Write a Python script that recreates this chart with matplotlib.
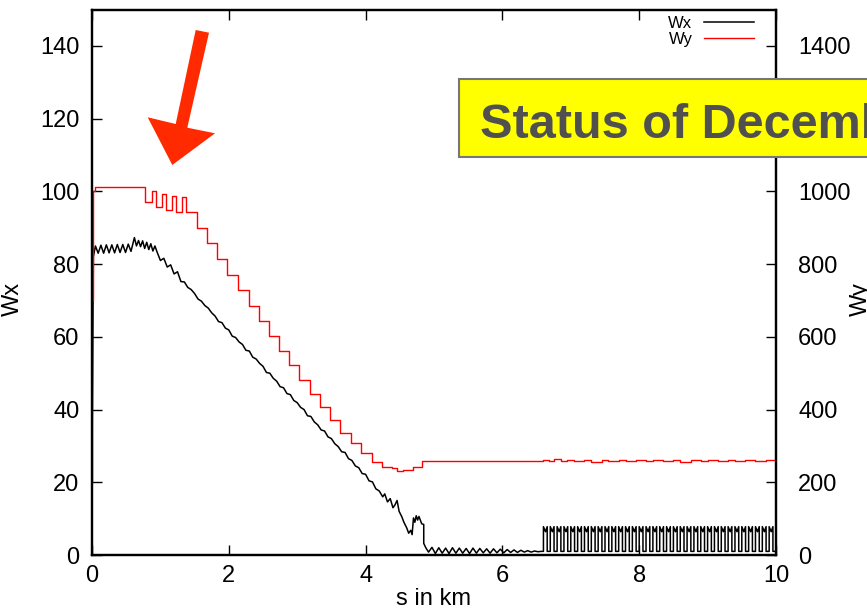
import matplotlib.pyplot as plt
from matplotlib.patches import Polygon, Rectangle

plt.rcParams['font.family'] = ['Liberation Sans', 'DejaVu Sans']

W, H = 867, 611

# Wx (left axis), black curve, s in km
wx_s = [0.00, 0.02, 0.05, 0.09, 0.13, 0.17, 0.21, 0.25, 0.29, 0.33, 0.37, 0.41,
        0.45, 0.49, 0.53, 0.57, 0.62, 0.65, 0.68, 0.71, 0.74, 0.77, 0.80, 0.83,
        0.86, 0.89, 0.92,
        0.95, 1.00, 1.05, 1.10, 1.15, 1.20, 1.25, 1.30, 1.35, 1.40, 1.45, 1.50,
        1.55, 1.60, 1.65, 1.70, 1.75, 1.80, 1.85, 1.90, 1.95, 2.00, 2.05, 2.10,
        2.15, 2.20, 2.25, 2.30, 2.35, 2.40, 2.45, 2.50, 2.55, 2.60, 2.65, 2.70,
        2.75, 2.80, 2.85, 2.90, 2.95, 3.00, 3.05, 3.10, 3.15, 3.20, 3.25, 3.30,
        3.35, 3.40, 3.45, 3.50, 3.55, 3.60, 3.65, 3.70, 3.75, 3.80, 3.85, 3.90,
        3.95, 4.00, 4.05, 4.10, 4.15, 4.20,
        4.25, 4.28, 4.32, 4.36, 4.40, 4.43, 4.46, 4.49, 4.53, 4.56, 4.60, 4.63,
        4.66, 4.68, 4.70, 4.72, 4.74, 4.76, 4.78, 4.82, 4.85, 4.85, 4.88, 4.92,
        4.97, 5.02, 5.07, 5.12, 5.17, 5.22, 5.27, 5.32, 5.37, 5.42, 5.47, 5.52,
        5.57, 5.62, 5.67, 5.72, 5.77, 5.82, 5.87, 5.92, 5.97, 6.02, 6.07, 6.12,
        6.17, 6.22, 6.27, 6.32, 6.37, 6.42, 6.47, 6.52, 6.57]
wx_v = [25.0, 82.0, 85.0, 83.0, 85.2, 83.0, 85.3, 83.1, 85.3, 83.1, 85.4, 83.2,
        85.4, 83.2, 85.5, 83.5, 87.3, 85.0, 86.5, 84.8, 86.4, 84.3, 86.0, 84.0,
        85.6, 83.6, 85.0,
        83.4, 81.0, 81.6, 79.2, 79.8, 77.3, 77.9, 75.2, 75.1, 73.6, 73.0, 71.9,
        70.4, 69.8, 68.6, 67.9, 66.6, 65.7, 64.2, 63.9, 62.4, 61.9, 60.2, 59.8,
        58.6, 57.9, 56.3, 56.1, 54.4, 53.9, 52.7, 51.9, 50.2, 50.0, 48.6, 47.8,
        46.3, 46.0, 44.4, 44.1, 42.5, 41.9, 40.6, 40.0, 38.3, 38.1, 36.6, 35.8,
        34.4, 34.1, 32.5, 32.0, 30.6, 29.8, 28.4, 28.2, 26.5, 26.0, 24.5, 24.0,
        22.4, 22.2, 20.4, 20.1, 18.2, 17.6,
        16.0, 16.8, 14.6, 15.5, 13.0, 13.8, 15.0, 12.0, 10.5, 9.0, 7.5, 6.0,
        6.8, 5.6, 10.2, 9.0, 10.8, 9.6, 10.6, 8.6, 8.4, 3.2, 2.0, 0.8,
        2.1, 0.4, 2.0, 0.5, 1.9, 0.4, 2.0, 0.5, 1.9, 0.5, 1.8, 0.4,
        1.9, 0.5, 1.8, 0.6, 1.7, 0.5, 1.7, 0.6, 1.6, 0.6, 1.5, 0.7,
        1.4, 0.7, 1.3, 0.8, 1.2, 0.8, 1.1, 0.9, 1.0]

# Wx pulses after 6.6 km: start of each pulse, top and bottom level
pulse_s = [6.60, 6.70, 6.80, 6.90, 7.00, 7.10, 7.20, 7.30, 7.40, 7.50, 7.60,
           7.70, 7.80, 7.90, 8.00, 8.10, 8.20, 8.30, 8.40, 8.50, 8.60, 8.70,
           8.80, 8.90, 9.00, 9.10, 9.20, 9.30, 9.40, 9.50, 9.60, 9.70, 9.80,
           9.90]
pulse_top = [7.8] * len(pulse_s)
pulse_low = [1.0] * len(pulse_s)

# Wy (right axis), red staircase
wy_s = [0.00, 0.005, 0.01, 0.02, 0.04, 0.78, 0.88, 0.93, 1.03, 1.085, 1.17,
        1.23, 1.32, 1.37, 1.53, 1.68, 1.83, 1.98, 2.14, 2.29, 2.44, 2.59,
        2.74, 2.88, 3.03, 3.18, 3.33, 3.48, 3.63, 3.78, 3.94, 4.09, 4.24,
        4.38, 4.46, 4.55, 4.69, 4.83,
        6.60, 6.68, 6.75, 6.85, 6.95, 7.05, 7.20, 7.30, 7.45, 7.55, 7.70,
        7.80, 7.95, 8.10, 8.20, 8.35, 8.50, 8.60, 8.75, 8.90, 9.00, 9.15,
        9.30, 9.40, 9.55, 9.70, 9.85, 10.0]
wy_v = [200, 700, 950, 1000, 1012, 970, 1002, 958, 993, 949, 988,
        944, 985, 942, 899, 857, 814, 771, 729, 686, 644, 603,
        562, 522, 481, 443, 406, 372, 336, 307, 280, 257, 243,
        238, 232, 234, 243, 258,
        262, 258, 263, 259, 262, 258, 261, 257, 262, 258, 262,
        258, 261, 258, 262, 258, 261, 257, 262, 258, 261, 258,
        262, 258, 261, 258, 262, 262]

px, pv = [], []
for s0, hi, lo in zip(pulse_s, pulse_top, pulse_low):
    px += [s0, s0, s0 + 0.03, s0 + 0.055, s0 + 0.055, s0 + 0.1]
    pv += [lo, hi, hi - 1.4, hi, lo, lo]

fig = plt.figure(figsize=(W / 100, H / 100), dpi=100)
ax = fig.add_axes([92 / W, 56 / H, 684 / W, 545.4 / H])
ax2 = ax.twinx()

l1, = ax.plot(wx_s + px, wx_v + pv, color='black', lw=1.1, label='Wx')
l2, = ax2.step(wy_s, wy_v, where='post', color='red', lw=1.0, label='Wy')

ax.set_xlim(0, 10)
ax.set_ylim(0, 150)
ax2.set_ylim(0, 1500)
ax.set_xticks(range(0, 11, 2))
ax.set_yticks(range(0, 141, 20))
ax2.set_yticks(range(0, 1401, 200))

for a in (ax, ax2):
    for sp in a.spines.values():
        sp.set_linewidth(1.6)
ax.tick_params(direction='in', length=7, width=1, labelsize=17, top=True)
ax.tick_params(axis='y', pad=9)
ax.tick_params(axis='x', pad=7)
ax2.tick_params(direction='in', length=7, width=1, labelsize=17, pad=16)

ax.set_xlabel('s in km', fontsize=17)
ax.xaxis.set_label_coords(0.5, -0.06)
ax.set_ylabel('Wx', fontsize=17)
ax.yaxis.set_label_coords(-0.099, 0.47)
ax2.set_ylabel('Wy', fontsize=17)
ax2.yaxis.set_label_coords(1.108, 0.47)

ax2.legend([l1, l2], ['Wx', 'Wy'], loc='upper right',
           bbox_to_anchor=(0.968, 0.988), frameon=False, markerfirst=False,
           fontsize=12, handlelength=3.0, handletextpad=0.7,
           labelspacing=0.05, borderpad=0, borderaxespad=0)

# red arrow pointing at the top of the curves
arrow_px = [(195.7, 30), (209, 32.7), (187.3, 127.7), (215, 133.3),
            (172.3, 165), (147.7, 117.3), (175.7, 124)]
fig.patches.append(Polygon([(x / W, 1 - y / H) for x, y in arrow_px],
                           closed=True, transform=fig.transFigure,
                           facecolor='#ff2a00', edgecolor='none', zorder=5))

# yellow banner
fig.patches.append(Rectangle((459.3 / W, 1 - 157.3 / H), 500 / W, 78 / H,
                             transform=fig.transFigure, facecolor='#ffff00',
                             edgecolor='#777777', lw=1.5, zorder=6))
fig.text(480 / W, 1 - 138.3 / H, 'Status of December 2009', fontsize=35,
         fontweight='bold', color='#505050', ha='left', va='baseline',
         zorder=7)

fig.savefig('out.png', dpi=100)
